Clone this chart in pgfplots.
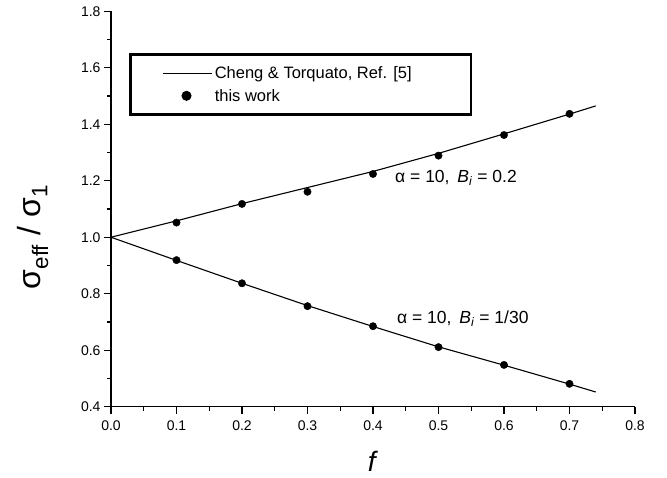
\documentclass[border=0pt]{standalone}
\usepackage{fontspec}
\setmainfont{Liberation Sans}
\usepackage{pgfplots}
\pgfplotsset{compat=1.18}
\usetikzlibrary{calc}
\begin{document}
\begin{tikzpicture}
\begin{axis}[
  name=ax,
  scale only axis,
  width=524pt, height=395.4pt,
  xmin=0, xmax=0.8, ymin=0.4, ymax=1.8,
  axis lines=left,
  axis line style={-, line width=1.2pt},
  every tick/.style={black, line width=1.1pt},
  tick align=outside,
  major tick length=7pt,
  minor tick length=4pt,
  xtick={0,0.1,...,0.8},
  ytick={0.4,0.6,...,1.8},
  minor x tick num=1,
  minor y tick num=1,
  /pgf/number format/assume math mode=true,
  /pgf/number format/.cd, fixed, fixed zerofill, precision=1,
  /pgfplots/.cd,
  tick label style={font=\fontsize{14}{16}\selectfont},
  xticklabel style={yshift=-3pt},
  xlabel={\textit{f}},
  xlabel style={font=\fontsize{28}{32}\selectfont, at={(axis description cs:0.5,-0.137)}, anchor=center},
  ylabel={σ\textsubscript{eff} / σ\textsubscript{1}},
  ylabel style={font=\fontsize{32}{36}\selectfont, at={(axis description cs:-0.149,0.429)}, anchor=center},
  clip=false,
  legend cell align=left,
  legend style={at={(axis cs:0.0275,1.651)}, anchor=north west, draw=black, line width=2.5pt,
    font=\fontsize{16.5}{19}\selectfont, inner xsep=4pt, inner ysep=10pt, row sep=5pt},
]
% upper curve (Cheng & Torquato)
\addplot[black, line width=1.1pt, mark=none, forget plot] coordinates {
  (0,1.0) (0.1,1.058) (0.2,1.119) (0.3,1.176) (0.4,1.233) (0.5,1.297) (0.6,1.366) (0.7,1.436) (0.74,1.465)};
% lower curve
\addplot[black, line width=1.1pt, mark=none,
  legend image code/.code={\path (0pt,0pt); \draw[black, line width=1.1pt] (27pt,0pt) -- (76pt,0pt);}] coordinates {
  (0,1.0) (0.1,0.918) (0.2,0.837) (0.3,0.758) (0.4,0.684) (0.5,0.612) (0.6,0.547) (0.7,0.480) (0.74,0.452)};
\addlegendentry{\makebox[250pt][l]{Cheng \& Torquato, Ref. [5]}}
% this work, upper
\addplot[only marks, mark=*, mark size=3.7pt, black,
  legend image code/.code={\path (0pt,0pt) (76pt,0pt); \fill[black] (51pt,0pt) circle (3.7pt);}] coordinates {
  (0.1,1.052) (0.2,1.118) (0.3,1.161) (0.4,1.224) (0.5,1.289) (0.6,1.362) (0.7,1.437)};
\addlegendentry{this work}
% this work, lower
\addplot[only marks, mark=*, mark size=3.7pt, black, forget plot] coordinates {
  (0.1,0.919) (0.2,0.837) (0.3,0.756) (0.4,0.685) (0.5,0.611) (0.6,0.548) (0.7,0.481)};
\node[anchor=west, inner sep=0pt, font=\fontsize{17.5}{20}\selectfont] at (axis cs:0.4336,1.210) {α = 10,\, \textit{B}\textsubscript{\textit{i}} = 0.2};
\node[anchor=west, inner sep=0pt, font=\fontsize{17.5}{20}\selectfont] at (axis cs:0.4366,0.711) {α = 10,\, \textit{B}\textsubscript{\textit{i}} = 1/30};
\coordinate (BL) at (rel axis cs:0,0);
\coordinate (TR) at (rel axis cs:1,1);
\end{axis}
\pgfresetboundingbox
\path[use as bounding box] ($(BL)+(-111pt,-70.3pt)$) rectangle ($(TR)+(32pt,11.3pt)$);
\end{tikzpicture}
\end{document}
